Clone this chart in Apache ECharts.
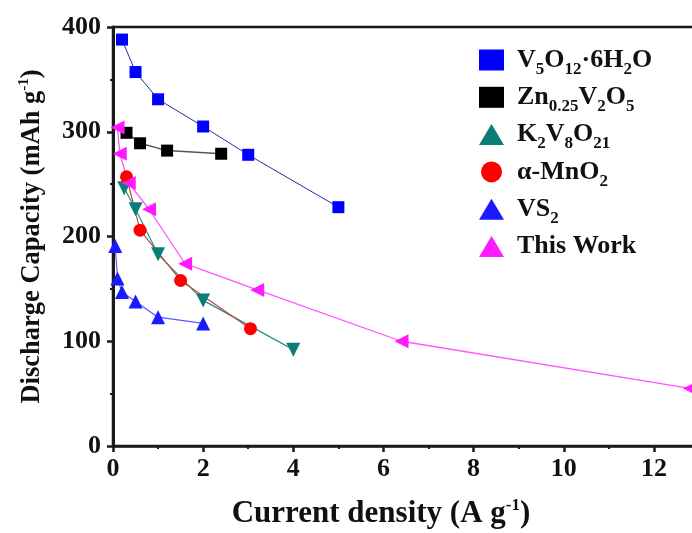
<!DOCTYPE html>
<html>
<head>
<meta charset="utf-8">
<script src="https://cdn.jsdelivr.net/npm/echarts@6/dist/echarts.min.js"></script>
<style>
  html, body { margin: 0; padding: 0; background: #fff; }
  #chart { width: 692px; height: 533px; }
</style>
</head>
<body>
<div id="chart"></div>
<script>
// rate capability comparison: [current density (A/g), capacity (mAh/g)]
const v5o12 = [[0.2, 388], [0.5, 357], [1, 331], [2, 305], [3, 278], [5, 228]];
const znv2o5 = [[0.3, 299], [0.6, 289], [1.2, 282], [2.4, 279]];
const k2v8o21 = [[0.25, 246], [0.5, 226], [1, 183], [2, 139], [4, 92]];
const mno2 = [[0.3, 257], [0.6, 206], [1.5, 158], [3.05, 112]];
const vs2 = [[0.05, 191], [0.1, 160], [0.2, 147], [0.5, 138], [1, 123], [2, 117]];
const thisWork = [[0.1, 304], [0.15, 279], [0.35, 251], [0.8, 226], [1.6, 174], [3.2, 149], [6.4, 100], [12.8, 55]];

const names = ['V5O12·6H2O', 'Zn0.25V2O5', 'K2V8O21', 'α-MnO2', 'VS2', 'This Work'];
// legend labels with subscripts, as rich text
const legendRich = {
  'V5O12·6H2O': '{m|V}{s|5}{m|O}{s|12}{m|·6H}{s|2}{m|O}',
  'Zn0.25V2O5': '{m|Zn}{s|0.25}{m|V}{s|2}{m|O}{s|5}',
  'K2V8O21': '{m|K}{s|2}{m|V}{s|8}{m|O}{s|21}',
  'α-MnO2': '{m|α-MnO}{s|2}',
  'VS2': '{m|VS}{s|2}',
  'This Work': '{m|This Work}',
};

const SERIF = '"Liberation Serif", "DejaVu Serif", serif';

function line(name, data, symbol, size, rot, fill, stroke, width) {
  return {
    name, type: 'line', data, symbol, symbolSize: size, symbolRotate: rot,
    itemStyle: { color: fill },
    lineStyle: { color: stroke, width },
    z: 3,
  };
}

const chart = echarts.init(document.getElementById('chart'));
chart.setOption({
  animation: false,
  backgroundColor: '#fff',
  textStyle: { fontFamily: SERIF },
  grid: {
    left: 113, right: -7, top: 27, bottom: 87, outerBoundsMode: 'none', containLabel: false,
    show: true, borderColor: '#1a1a1a', borderWidth: 2.5, backgroundColor: 'transparent',
  },
  legend: {
    orient: 'vertical', left: 474, top: 42, itemWidth: 25, itemHeight: 21, itemGap: 6.3,
    symbolRotate: 0,
    data: [
      { name: names[0], icon: 'rect' },
      { name: names[1], icon: 'rect' },
      { name: names[2], icon: 'triangle' },
      { name: names[3], icon: 'circle' },
      { name: names[4], icon: 'triangle' },
      { name: names[5], icon: 'triangle' },
    ],
    formatter: (n) => legendRich[n],
    textStyle: {
      padding: [0, 0, 0, 8],
      rich: {
        m: { fontFamily: SERIF, fontWeight: 'bold', fontSize: 26, lineHeight: 26, verticalAlign: 'top', color: '#111' },
        s: { fontFamily: SERIF, fontWeight: 'bold', fontSize: 17, lineHeight: 14, verticalAlign: 'top', padding: [14, 0, 0, 0], color: '#111' },
      },
    },
  },
  xAxis: {
    type: 'value', min: 0, max: 13, interval: 2,
    name: '{m|Current density (A g}{p|-1}{m|)}',
    nameLocation: 'middle', nameGap: 51,
    nameTextStyle: {
      padding: [0, 50, 0, 0],
      rich: {
        m: { fontFamily: SERIF, fontWeight: 'bold', fontSize: 31, lineHeight: 34, color: '#111' },
        p: { fontFamily: SERIF, fontWeight: 'bold', fontSize: 17, lineHeight: 14, verticalAlign: 'top', color: '#111' },
      },
    },
    axisLine: { lineStyle: { color: '#1a1a1a', width: 2.5 } },
    axisTick: { inside: false, length: 6, lineStyle: { width: 2.5, color: '#1a1a1a' } },
    minorTick: { show: true, splitNumber: 2, length: 3, lineStyle: { width: 2, color: '#1a1a1a' } },
    axisLabel: {
      color: '#111', fontFamily: SERIF, fontWeight: 'bold', fontSize: 26, margin: 10,
      formatter: (v) => (v > 12 ? '' : String(v)),
    },
    splitLine: { show: false },
  },
  yAxis: {
    type: 'value', min: 0, max: 400, interval: 100,
    name: '{m|Discharge Capacity (mAh g}{p|-1}{m|)}',
    nameLocation: 'middle', nameGap: 66, nameRotate: 90,
    nameTextStyle: {
      rich: {
        m: { fontFamily: SERIF, fontWeight: 'bold', fontSize: 26.5, lineHeight: 30, color: '#111' },
        p: { fontFamily: SERIF, fontWeight: 'bold', fontSize: 15, lineHeight: 12, verticalAlign: 'top', color: '#111' },
      },
    },
    axisLine: { show: true, lineStyle: { color: '#1a1a1a', width: 3 } },
    axisTick: { inside: false, length: 6, lineStyle: { width: 2.5, color: '#1a1a1a' } },
    minorTick: { show: true, splitNumber: 2, length: 3, lineStyle: { width: 2, color: '#1a1a1a' } },
    axisLabel: { color: '#111', fontFamily: SERIF, fontWeight: 'bold', fontSize: 26, margin: 12 },
    splitLine: { show: false },
  },
  series: [
    line(names[0], v5o12, 'rect', 12, 0, '#0000ff', '#2a2a9a', 1),
    line(names[1], znv2o5, 'rect', 12, 0, '#000000', '#555555', 1.5),
    line(names[2], k2v8o21, 'triangle', 14, 180, '#0b7d77', '#2a8f86', 1.2),
    line(names[3], mno2, 'circle', 13, 0, '#ff0000', '#b84a3a', 1.2),
    line(names[4], vs2, 'triangle', 14, 0, '#1a1aff', '#5a5aff', 1.2),
    line(names[5], thisWork, 'triangle', 14, 90, '#ff1aff', '#ff55ff', 1.3),
  ],
});
</script>
</body>
</html>
